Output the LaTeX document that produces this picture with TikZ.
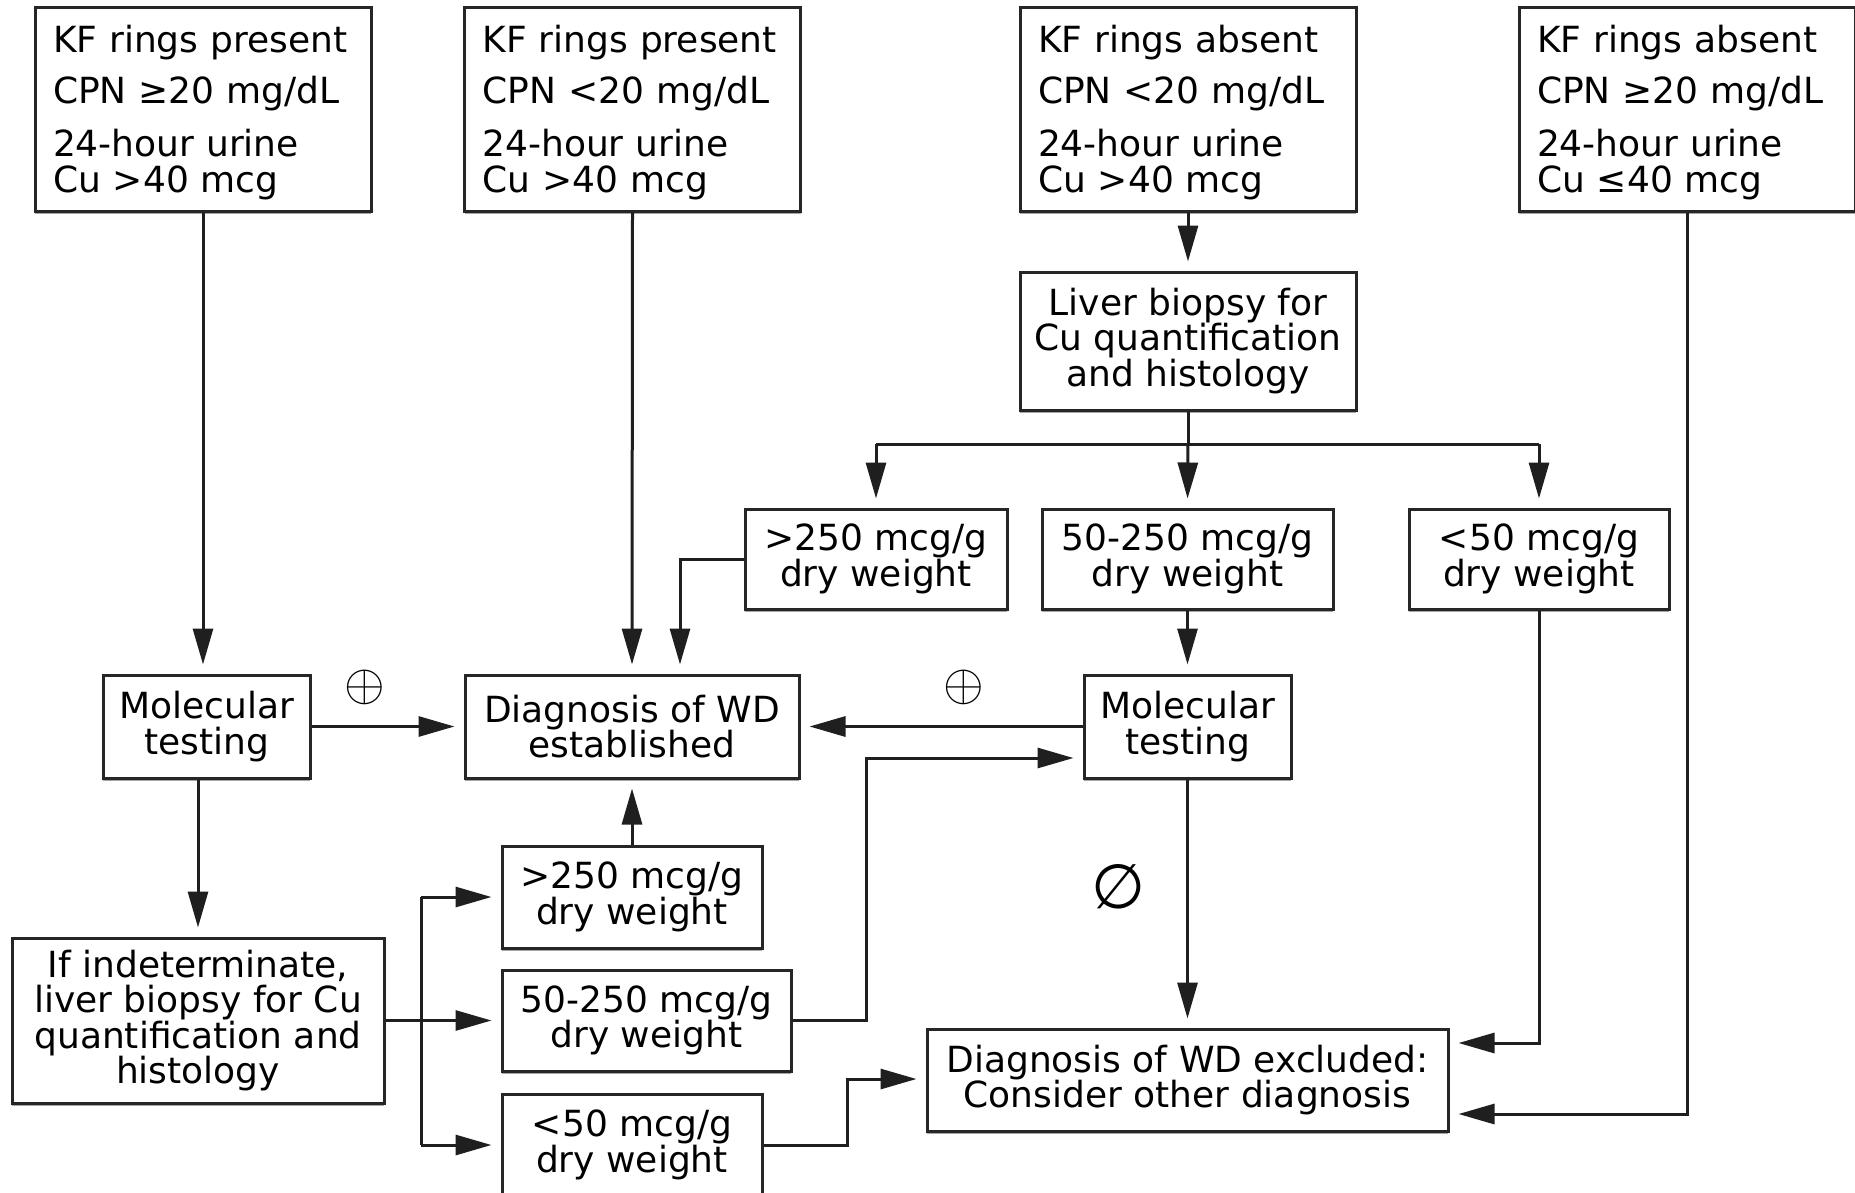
\documentclass[tikz,border=0pt]{standalone}
\usepackage{fontspec}
\setmainfont{DejaVu Sans}
\usetikzlibrary{arrows.meta,shadows}
\newcommand{\toppad}{\rule{0pt}{34pt}}
\begin{document}
\begin{tikzpicture}[x=1pt,y=-1pt,
  box/.style={draw=black!85, line width=3pt, fill=white, align=center, inner sep=0pt,
    font=\fontsize{36}{35.5}\selectfont,
    drop shadow={shadow xshift=0pt, shadow yshift=-3pt, fill=black!35, opacity=1}},
  topbox/.style={box, align=left, text width=300pt, inner xsep=18pt, minimum height=204pt},
  conn/.style={line width=3pt, draw=black!88},
  arr/.style={conn, -{Triangle[length=36pt,width=20pt]}, shorten >=9pt},
  sym/.style={font=\fontsize{24.88}{25}\selectfont, inner sep=0pt, scale=2.1}
]
\useasboundingbox[fill=white] (0,0) rectangle (1855,1192);

% top row
\node[topbox] (A) at (203,109) {\toppad KF rings present\\[15.5pt]CPN ≥20 mg/dL\\[17.5pt]24-hour urine\\Cu >40 mcg};
\node[topbox] (B) at (632.5,109) {\toppad KF rings present\\[15.5pt]CPN <20 mg/dL\\[17.5pt]24-hour urine\\Cu >40 mcg};
\node[topbox] (C) at (1188,109) {\toppad KF rings absent\\[15.5pt]CPN <20 mg/dL\\[17.5pt]24-hour urine\\Cu >40 mcg};
\node[topbox] (D) at (1687,109) {\toppad KF rings absent\\[15.5pt]CPN ≥20 mg/dL\\[17.5pt]24-hour urine\\Cu ≤40 mcg};

% liver biopsy
\node[box, minimum width=336pt, minimum height=138pt] (LB) at (1188,341) {Liver biopsy for\\Cu quantification\\and histology};

% biopsy results row
\node[box, minimum width=262pt, minimum height=100pt] (RH) at (876,559) {>250 mcg/g\\dry weight};
\node[box, minimum width=291pt, minimum height=100pt] (RM) at (1187.5,559) {50-250 mcg/g\\dry weight};
\node[box, minimum width=260pt, minimum height=100pt] (RL) at (1539,559) {<50 mcg/g\\dry weight};

% middle row
\node[box, minimum width=207pt, minimum height=103pt] (MolL) at (206.5,726.5) {Molecular\\testing};
\node[box, minimum width=334pt, minimum height=103pt] (DiagE) at (632,726.5) {Diagnosis of WD\\established};
\node[box, minimum width=207pt, minimum height=103pt] (MolR) at (1187.5,726.5) {Molecular\\testing};

% lower part
\node[box, minimum width=372pt, minimum height=165pt] (Ind) at (198,1020.5) {If indeterminate,\\liver biopsy for Cu\\quantification and\\histology};
\node[box, minimum width=260pt, minimum height=102pt] (LH) at (632,897) {>250 mcg/g\\dry weight};
\node[box, minimum width=289pt, minimum height=101pt] (LM) at (646.5,1020.5) {50-250 mcg/g\\dry weight};
\node[box, minimum width=260pt, minimum height=102pt] (LL) at (632,1145) {<50 mcg/g\\dry weight};
\node[box, minimum width=521pt, minimum height=102pt] (Excl) at (1187.5,1080) {Diagnosis of WD excluded:\\Consider other diagnosis};

% symbols
\node[sym] (p1) at (365,687) {$\oplus$};
\node[sym] (p2) at (964,687) {$\oplus$};
\node[font=\fontsize{62}{62}\selectfont, inner sep=0pt] (e1) at (1118,887) {∅};

% junction coordinates
\coordinate (j1) at (680,0);
\coordinate (br) at (1188,444);
\coordinate (ib) at (421,0);
\coordinate (j2) at (866,758);
\coordinate (j3) at (847,1079);
\coordinate (j4) at (1540,1043);
\coordinate (j5) at (1687,1114);

% connectors
\draw[arr] (A.south) -- (A.south |- MolL.north);
\draw[arr] (B.south) -- (DiagE.north);
\draw[arr] (RH.west) -| (j1 |- DiagE.north);
\draw[arr] (C.south) -- (LB.north);
\draw[conn] (LB.south) -- (br);
\draw[conn] (RH.north |- br) -- (RL.north |- br);
\draw[arr] (RH.north |- br) -- (RH.north);
\draw[arr] (br) -- (RM.north);
\draw[arr] (RL.north |- br) -- (RL.north);
\draw[arr] (RM.south) -- (MolR.north);
\draw[arr] (MolL.east) -- (DiagE.west);
\draw[arr] (MolR.west) -- (DiagE.east);
\draw[arr] (Ind.north |- MolL.south) -- (Ind.north);
\draw[arr] (Ind.east) -- (LM.west);
\draw[conn] (ib |- LH.west) -- (ib |- LL.west);
\draw[arr] (ib |- LH.west) -- (LH.west);
\draw[arr] (ib |- LL.west) -- (LL.west);
\draw[arr] (LH.north) -- (DiagE.south);
\draw[arr] (LM.east) -| (j2) -- (j2 -| MolR.west);
\draw[arr] (LL.east) -| (j3) -- (j3 -| Excl.west);
\draw[arr] (MolR.south) -- (Excl.north);
\draw[arr] (RL.south) |- (Excl.east |- j4);
\draw[arr] (D.south) |- (Excl.east |- j5);
\end{tikzpicture}
\end{document}
